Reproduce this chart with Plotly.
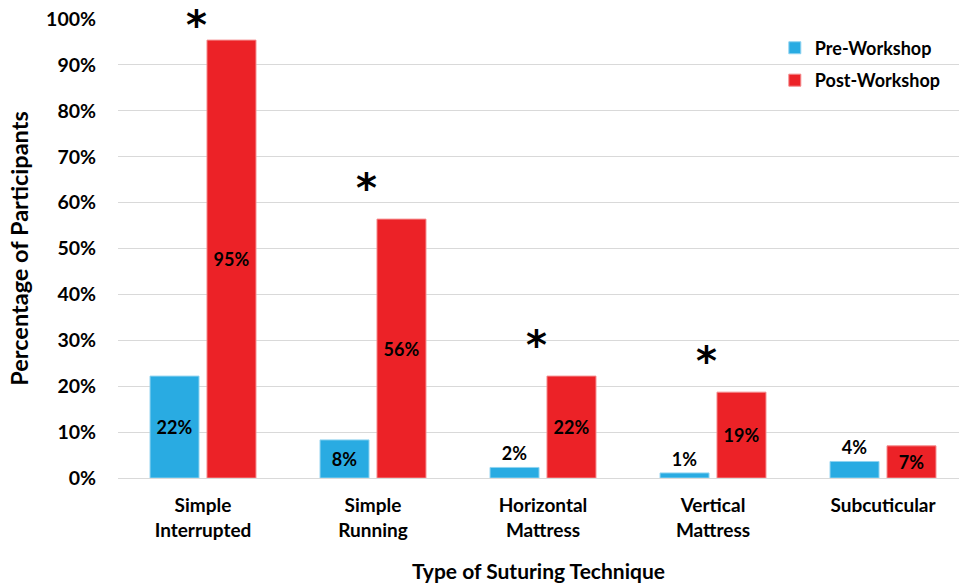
import plotly.graph_objects as go

# Suturing techniques and share of participants (%) before/after the workshop
techniques = ["Simple<br>Interrupted", "Simple<br>Running", "Horizontal<br>Mattress",
              "Vertical<br>Mattress", "Subcuticular"]
pre_workshop = [22.2, 8.3, 2.3, 1.1, 3.6]
post_workshop = [95.4, 56.4, 22.2, 18.7, 7.0]
significant = [True, True, True, True, False]
y_ticks = [0, 10, 20, 30, 40, 50, 60, 70, 80, 90, 100]
y_tick_labels = [f"{t}%" for t in y_ticks]

BLUE = "#29ABE2"
RED = "#EC2227"
FONT = "Lato"

fig = go.Figure()

pre_pos = ["inside" if v >= 6 else "outside" for v in pre_workshop]
post_pos = ["inside" if v >= 6 else "outside" for v in post_workshop]

fig.add_trace(go.Bar(
    name="Pre-Workshop", x=techniques, y=pre_workshop,
    marker=dict(color=BLUE, line=dict(color="#8fd3f0", width=1)),
    text=[f"{v:.0f}%" for v in pre_workshop], textposition=pre_pos,
    insidetextanchor="middle", constraintext="none",
    textfont=dict(family=FONT, size=18, color="black", weight="bold"),
    legendgroup="pre",
))
fig.add_trace(go.Bar(
    name="Post-Workshop", x=techniques, y=post_workshop,
    marker=dict(color=RED, line=dict(color="#f48a8c", width=1)),
    text=[f"{v:.0f}%" for v in post_workshop], textposition=post_pos,
    insidetextanchor="middle", constraintext="none",
    textfont=dict(family=FONT, size=18, color="black", weight="bold"),
    legendgroup="post",
))

# Significance markers above each post-workshop bar
for i, (tech, v, sig) in enumerate(zip(techniques, post_workshop, significant)):
    if sig:
        fig.add_annotation(
            x=i, y=min(v + 8, 100), xref="x", yref="y", text="*",
            showarrow=False, xshift=-7, yshift=-6,
            font=dict(family="DejaVu Sans", size=40, color="black", weight="bold"),
        )

fig.update_layout(
    width=959, height=583,
    margin=dict(l=118, r=0, t=19, b=105),
    paper_bgcolor="white", plot_bgcolor="white",
    font=dict(family=FONT, color="black", weight="bold"),
    barmode="group", bargap=0.33, bargroupgap=0.14,
    showlegend=True,
    legend=dict(
        x=0.781, y=0.977, xanchor="left", yanchor="top",
        font=dict(family=FONT, size=18, color="black", weight="bold"),
        traceorder="grouped", tracegroupgap=6,
        bgcolor="rgba(0,0,0,0)",
    ),
)

fig.update_xaxes(
    range=[-0.5, 4.447],
    showgrid=False, showline=False, ticks="",
    tickfont=dict(family=FONT, size=19, color="black", weight="bold"),
    ticklabelstandoff=14,
    title=dict(text="Type of Suturing Technique", standoff=24,
               font=dict(family=FONT, size=21, color="black", weight="bold")),
)
fig.update_yaxes(
    range=[0, 100], tickmode="array", tickvals=y_ticks, ticktext=y_tick_labels,
    showgrid=True, gridcolor="#d9d9d9", gridwidth=1,
    zeroline=True, zerolinecolor="#d9d9d9", zerolinewidth=1,
    showline=False, ticks="",
    tickfont=dict(family=FONT, size=19.5, color="black", weight="bold"),
    ticklabelstandoff=21,
    title=dict(text="Percentage of Participants", standoff=10,
               font=dict(family=FONT, size=23.5, color="black", weight="bold")),
)

fig.write_html("out.html")
